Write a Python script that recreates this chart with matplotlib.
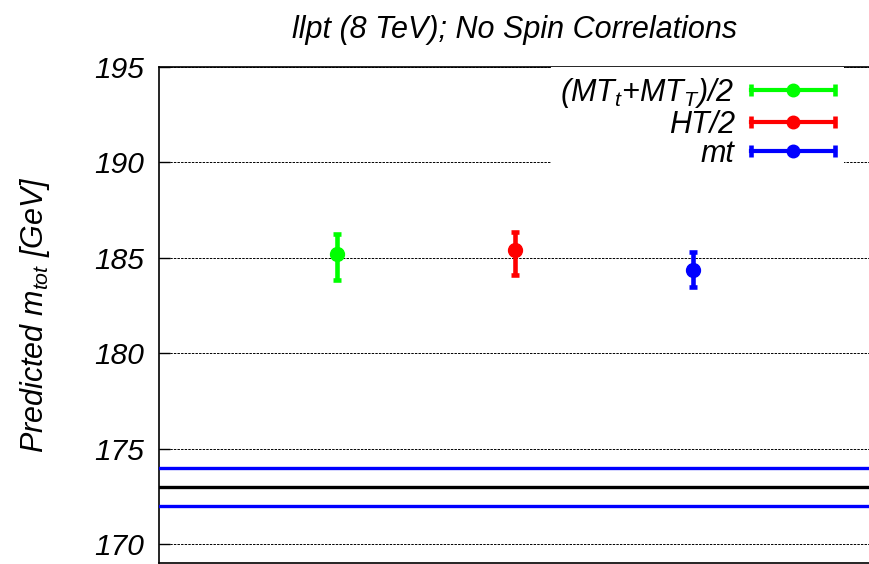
import numpy as np
import matplotlib
matplotlib.use("Agg")
import matplotlib.pyplot as plt
from matplotlib.lines import Line2D
from matplotlib.legend_handler import HandlerBase
from matplotlib.container import ErrorbarContainer

plt.rcParams['font.family'] = ['Liberation Sans', 'DejaVu Sans']
plt.rcParams['font.style'] = 'italic'
plt.rcParams['mathtext.fontset'] = 'custom'
plt.rcParams['mathtext.it'] = 'Liberation Sans:italic'
plt.rcParams['mathtext.rm'] = 'Liberation Sans:italic'
plt.rcParams['mathtext.default'] = 'it'

# ---- data ----
labels = [r"(MT$_t$+MT$_T$)/2", "HT/2", "mt"]
colors = ["#00ff00", "#ff0000", "#0000ff"]
values = [185.22, 185.41, 184.36]
err_low = [1.37, 1.29, 0.87]
err_high = [1.05, 0.96, 0.93]
top_mass = 173.0
top_band = [172.0, 174.0]
yticks = [170, 175, 180, 185, 190, 195]
title = "llpt (8 TeV); No Spin Correlations"
ylabel = r"Predicted m$_{tot}$ [GeV]"

W, H = 869, 564
fig = plt.figure(figsize=(W / 100, H / 100), dpi=100)
ax = fig.add_axes([159 / W, 1 / H, (871 - 159) / W, (563 - 67) / H])

x = np.arange(1, len(values) + 1)
handles = []
for xi, v, lo, hi, c, lab in zip(x, values, err_low, err_high, colors, labels):
    h = ax.errorbar([xi], [v], yerr=[[lo], [hi]], fmt='o', color=c, ecolor=c,
                    elinewidth=3.3, capsize=3.2, capthick=3.3, markersize=10,
                    label=lab, zorder=4)
    handles.append(h)

for yb in top_band:
    ax.axhline(yb, color="#0000ff", lw=2.4, zorder=3)
ax.axhline(top_mass, color="black", lw=2.4, zorder=3)

ax.set_xlim(0, len(values) + 1)
ax.set_ylim(169, 195)
ax.set_yticks(yticks)
ax.set_yticklabels([str(t) for t in yticks])
ax.set_xticks([])
ax.tick_params(axis='y', direction='in', length=8, width=1, pad=11,
               labelsize=21.5, right=False)
ax.grid(axis='y', color='black', linestyle=(0, (2.5, 1.2)), linewidth=0.7)
ax.set_axisbelow(True)
for s in ax.spines.values():
    s.set_linewidth(1.2)

ax.set_title(title, fontsize=22, pad=21)
ax.set_ylabel(ylabel, fontsize=22, labelpad=30)


class HBarHandler(HandlerBase):
    def create_artists(self, legend, orig_handle, xdescent, ydescent,
                       width, height, fontsize, trans):
        c = orig_handle[0].get_color()
        y = height / 2 - ydescent
        x0, x1 = -xdescent, -xdescent + width
        line = Line2D([x0, x1], [y, y], color=c, lw=3)
        caps = Line2D([x0, x1], [y, y], ls='none', marker='|', ms=8, mew=3.3, color=c)
        dot = Line2D([(x0 + x1) / 2], [y], ls='none', marker='o', ms=9, color=c)
        for a in (line, caps, dot):
            a.set_transform(trans)
        return [line, caps, dot]


leg = ax.legend(handles=handles, labels=labels, loc='upper right',
                bbox_to_anchor=(0.962, 1.0), borderaxespad=0, borderpad=0.3,
                markerfirst=False, fontsize=22, handlelength=2.75,
                handletextpad=0.52, labelspacing=-0.02, frameon=True,
                fancybox=False, handler_map={ErrorbarContainer: HBarHandler()})
leg.get_frame().set_facecolor('white')
leg.get_frame().set_edgecolor('none')
leg.get_frame().set_alpha(1.0)

fig.savefig("out.png", dpi=100)
